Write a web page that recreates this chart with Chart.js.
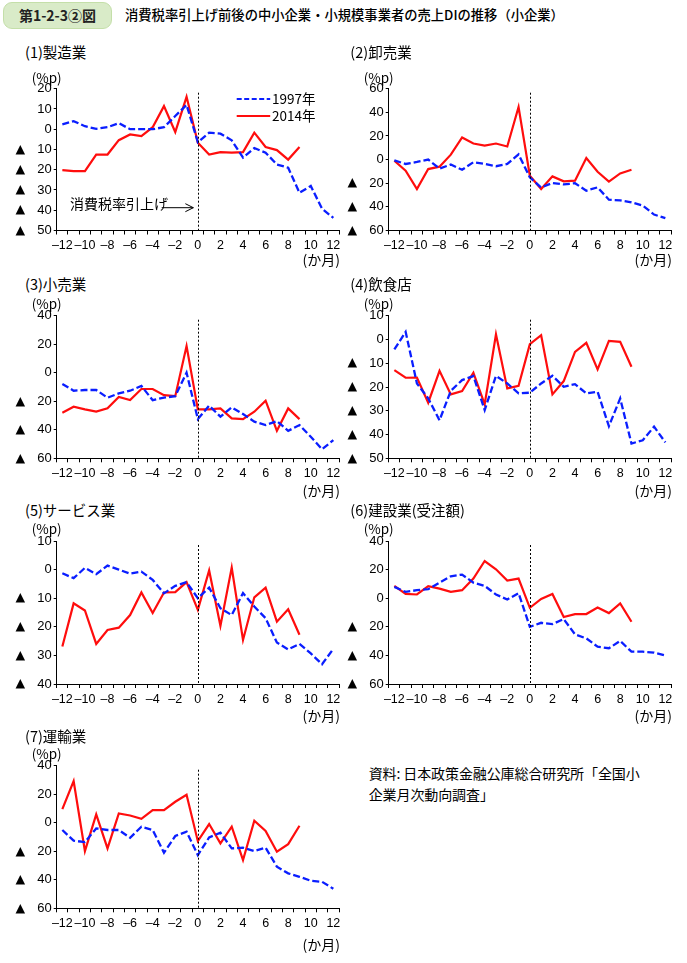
<!DOCTYPE html>
<html><head><meta charset="utf-8">
<script src="https://cdn.jsdelivr.net/npm/chart.js@4.4.1/dist/chart.umd.min.js"></script>
<style>
body{margin:0;width:687px;height:963px;background:#fff;position:relative;overflow:hidden;font-family:"Noto Sans CJK JP",sans-serif;color:#000}
.t{position:absolute;white-space:nowrap;line-height:1;z-index:2}
canvas{position:absolute;z-index:1}
#badge{position:absolute;left:3px;top:2px;width:107px;height:25px;border-radius:9px;background:#d9ebc8;border:1px solid #c4dfa9;font-size:14px;line-height:25px;text-align:center;font-weight:700;color:#222}
</style></head><body>
<div id="badge">第1-2-3②図</div>
<div class="t" style="left:125px;top:8px;font-size:13.3px;font-weight:500;">消費税率引上げ前後の中小企業・小規模事業者の売上DIの推移（小企業）</div>
<div id="texts"></div>
<script>
// ---- data (months relative to the consumption-tax hike) ----
const months = [-12,-11,-10,-9,-8,-7,-6,-5,-4,-3,-2,-1,0,1,2,3,4,5,6,7,8,9,10,11,12];
const seriesNames = ['1997年','2014年'];
const panelTitles = ['(1)製造業','(2)卸売業','(3)小売業','(4)飲食店','(5)サービス業','(6)建設業(受注額)','(7)運輸業'];

const mfg1997  = [2.4,4,1.5,0.2,1,3,0,0,0,1,6.5,12,-6.4,-1.7,-2.2,-5.5,-14,-9.3,-11.6,-17.4,-19,-31.4,-28,-39.3,-43.8];
const mfg2014  = [-20.2,-20.7,-20.7,-12.5,-12.5,-5.4,-2.6,-3.4,1,11.4,-1.4,16,-6.7,-12.5,-11.3,-11.6,-11.3,-1.7,-8.8,-10.3,-15,-8.8];
const whl1997  = [-0.6,-3.7,-2,0,-7.6,-4.2,-8.6,-2.2,-3.7,-5.6,-3.7,4.4,-15,-23.6,-19.8,-21,-20,-26.3,-23.5,-33.9,-34.5,-36.1,-38.9,-46.5,-49.6];
const whl2014  = [-1,-9.4,-24.9,-8,-6,4.2,18.7,13.6,11.9,13.6,11.1,44.5,-13.6,-24.9,-14.2,-18.4,-17.8,1.3,-10.3,-18.7,-11.7,-8.6];
const rtl1997  = [-7.9,-12.6,-12.1,-12.1,-17.5,-14.5,-12.6,-9.3,-19.2,-17.5,-16.4,0,-32.5,-23.1,-30.8,-24.3,-29,-34.3,-36.7,-33.9,-40.7,-36.7,-44.9,-53.7,-47.2];
const rtl2014  = [-28,-23.8,-25.7,-27.3,-25,-17,-19.2,-11.4,-11.4,-15.7,-16.4,18.7,-25.7,-25.7,-25,-32,-32.5,-27.3,-19.6,-40.7,-25,-32.5];
const food1997 = [-4.2,3.2,-18.5,-24.8,-34,-21.6,-17.1,-15.4,-29.7,-15.3,-18.5,-22.7,-22.4,-18.5,-15.3,-19.9,-18.8,-22.7,-22,-36.5,-24.8,-43.8,-42.4,-36.7,-43.3];
const food2014 = [-12.9,-16.1,-16,-26.6,-13.2,-23.1,-21.7,-14,-27.3,2.2,-20.6,-19.5,-2,1.8,-23.1,-17.5,-5.2,-1.4,-12.6,-0.6,-1,-11.5];
const svc1997  = [-1.3,-3,0.6,-1.6,1.4,0,-1.4,-0.7,-3.6,-8.3,-5.7,-4.4,-10,-6.3,-13.5,-15.9,-8.2,-12.9,-17,-25.5,-27.9,-26,-29.3,-33.1,-27.7];
const svc2014  = [-26.9,-11.8,-14.3,-26,-21.1,-20.3,-15.9,-8,-15.2,-8,-7.9,-4.4,-14.1,-0.3,-19.7,0.7,-24.6,-9.7,-6.3,-18.2,-13.9,-22.8];
const con1997  = [7.9,4.4,5.6,6.3,10.9,15.3,16.5,10.9,8.6,2.6,-0.9,3.5,-20,-17.2,-18.1,-14.6,-25.3,-28.1,-33.9,-35,-29.9,-37.4,-37.4,-38,-40.1];
const con2014  = [8.6,3,2.6,8.4,6.7,4.4,5.6,13.7,26,20.2,12.3,13.7,-6.7,-0.5,3,-13.2,-11.1,-11.1,-6.5,-10.4,-3.7,-16.5];
const trn1997  = [-5.1,-12.6,-13.6,-4,-5.1,-5.1,-10.5,-2.8,-5.1,-21,-9.3,-6.3,-22.7,-10.3,-7,-18,-17.5,-19.9,-17.5,-30.8,-35.5,-37.9,-40.7,-41.4,-46.3];
const trn2014  = [9.6,29.2,-19.9,5.8,-18,6.5,5.1,2.8,8.9,8.9,14.7,19.6,-12.9,-0.9,-14.5,-2.8,-26.2,1.4,-5.8,-20.3,-15,-2.1];

// y-axis ranges per panel [min, max, step]
const yRanges = [[-50,20,10],[-60,60,20],[-60,40,20],[-50,10,10],[-40,10,10],[-60,40,20],[-60,40,20]];
const panelData = [[mfg1997,mfg2014],[whl1997,whl2014],[rtl1997,rtl2014],[food1997,food2014],[svc1997,svc2014],[con1997,con2014],[trn1997,trn2014]];

// ---- layout ----
const COLS = [{cl:0, pl:56.7, pr:339}, {cl:342, pl:388.7, pr:671}];
const ROWS = [{pt:88.7,pb:230.5,title:52.7,unit:77.7,month:258.7},
              {pt:315.7,pb:458.3,title:284,unit:303.3,month:490},
              {pt:541,pb:684,title:510,unit:528.3,month:715},
              {pt:765.7,pb:908.3,title:736,unit:753.3,month:944}];
const BLUE = '#0a1eff', RED = '#ff0d0d';
const tickFont = {family:"'Liberation Sans', Arial, sans-serif", size:13};

const texts = document.getElementById('texts');
function addText(str, left, cy, size, extra){
  const d = document.createElement('div');
  d.className = 't';
  d.textContent = str;
  d.style.left = left + 'px';
  d.style.top = (cy - size/2) + 'px';
  d.style.fontSize = size + 'px';
  if (extra) Object.assign(d.style, extra);
  texts.appendChild(d);
  return d;
}
function addTextRight(str, right, cy, size){
  const d = addText(str, 0, cy, size);
  d.style.left = '';
  d.style.right = (687 - right) + 'px';
  return d;
}

const decoPlugin = {
  id:'deco',
  afterDraw(chart, args, opts){
    const ctx = chart.ctx, ca = chart.chartArea, x = chart.scales.x, y = chart.scales.y;
    ctx.save();
    // dotted vertical line at month 0
    const x0 = x.getPixelForValue(12);
    ctx.strokeStyle = '#000'; ctx.lineWidth = 1; ctx.setLineDash([2,2]);
    ctx.beginPath(); ctx.moveTo(Math.round(x0)+0.5, ca.top+4); ctx.lineTo(Math.round(x0)+0.5, ca.bottom); ctx.stroke();
    ctx.setLineDash([]);
    // ▲ markers for negative ticks
    ctx.fillStyle = '#000';
    ctx.font = "12.5px 'DejaVu Sans', sans-serif";
    ctx.textAlign = 'center'; ctx.textBaseline = 'middle';
    y.ticks.forEach(t => {
      if (t.value < 0) ctx.fillText('▲', ca.left - 36.5, y.getPixelForValue(t.value));
    });
    if (opts.legend){
      // legend samples
      const lx = ca.left + 180, lx2 = ca.left + 213.5;
      ctx.lineWidth = 2.2;
      ctx.strokeStyle = BLUE; ctx.setLineDash([5,2.5]);
      ctx.beginPath(); ctx.moveTo(lx, ca.top+10.3); ctx.lineTo(lx2, ca.top+10.3); ctx.stroke();
      ctx.setLineDash([]);
      ctx.strokeStyle = RED;
      ctx.beginPath(); ctx.moveTo(lx, ca.top+27.3); ctx.lineTo(lx2, ca.top+27.3); ctx.stroke();
      // arrow
      const tip = x0 - 4.5, ay = ca.bottom - 22.8;
      ctx.strokeStyle = '#000'; ctx.lineWidth = 1;
      ctx.beginPath(); ctx.moveTo(ca.left + 105, ay); ctx.lineTo(tip, ay);
      ctx.moveTo(tip - 8, ay - 4); ctx.lineTo(tip, ay); ctx.lineTo(tip - 8, ay + 4); ctx.stroke();
    }
    ctx.restore();
  }
};

function makePanel(i){
  const col = COLS[i % 2], row = ROWS[Math.floor(i / 2)];
  const [ymin, ymax, ystep] = yRanges[i];
  const [d1997, d2014] = panelData[i];
  const ctop = Math.floor(row.pt) - 20, cbot = Math.ceil(row.pb) + 32;
  const cv = document.createElement('canvas');
  cv.width = 345; cv.height = cbot - ctop;
  cv.style.left = col.cl + 'px'; cv.style.top = ctop + 'px';
  cv.style.width = '345px'; cv.style.height = (cbot - ctop) + 'px';
  document.body.appendChild(cv);

  new Chart(cv, {
    type:'line',
    data:{
      labels: months.map(String),
      datasets:[
        {label:seriesNames[0], data:d1997, borderColor:BLUE, borderWidth:2.3, borderDash:[7,3], pointRadius:0, tension:0, fill:false},
        {label:seriesNames[1], data:d2014, borderColor:RED, borderWidth:2.2, pointRadius:0, tension:0, fill:false}
      ]
    },
    options:{
      responsive:false, animation:false, devicePixelRatio:1,
      layout:{padding:{left:0, top:row.pt - ctop, right:(col.cl + 345) - col.pr, bottom:0}},
      plugins:{legend:{display:false}, tooltip:{enabled:false}, deco:{legend: i === 0}},
      scales:{
        x:{
          type:'category', offset:true,
          grid:{offset:true, drawOnChartArea:false, tickLength:4, color:'#000', lineWidth:1},
          border:{color:'#000', width:1},
          ticks:{autoSkip:false, maxRotation:0, minRotation:0, padding:4, color:'#000', font:{family:"'Liberation Sans', Arial, sans-serif", size:12.5},
                 callback:(v, idx) => { const m = months[idx]; return m % 2 === 0 ? (m < 0 ? '–' + Math.abs(m) : String(m)) : ''; }},
          afterFit:(s) => { s.height = cbot - row.pb; }
        },
        y:{
          min:ymin, max:ymax,
          grid:{drawOnChartArea:false, tickLength:3, color:'#000', lineWidth:1},
          border:{color:'#000', width:1},
          ticks:{stepSize:ystep, padding:2, color:'#000', font:tickFont, callback:(v) => String(Math.abs(v))},
          afterFit:(s) => { s.width = col.pl - col.cl; }
        }
      }
    },
    plugins:[decoPlugin]
  });

  addText(panelTitles[i], col.cl + (i % 2 ? 8.3 : 25), row.title, 14.5);
  addText('(%p)', col.pl - 25, row.unit, 13.5);
  addTextRight('(か月)', col.pr + 1, row.month, 14);
}
for (let i = 0; i < 7; i++) makePanel(i);

// legend texts and annotation (panel 1)
addText(seriesNames[0], 272, 99, 13.5);
addText(seriesNames[1], 272, 116, 13.5);
addText('消費税率引上げ', 70, 202.5, 14);
// source
addText('資料: 日本政策金融公庫総合研究所「全国小', 368.7, 772.7, 14, {letterSpacing:'-0.1px'});
addText('企業月次動向調査」', 368.7, 793.5, 14, {letterSpacing:'-0.1px'});
</script>
</body></html>
